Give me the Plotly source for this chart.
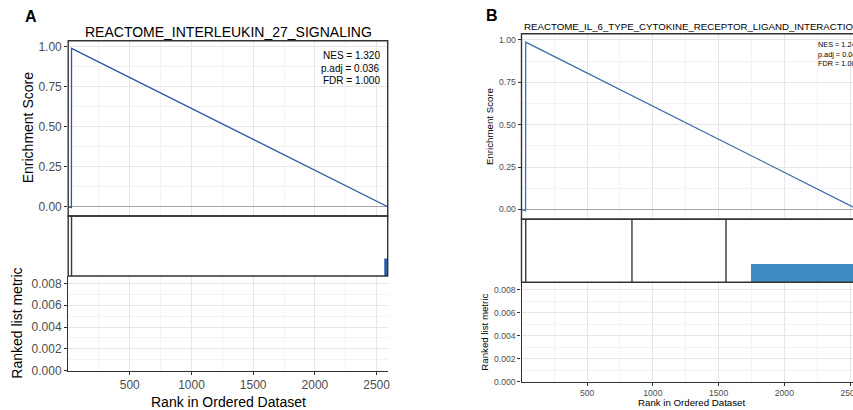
import plotly.graph_objects as go

W, H = 853, 410
FONT = "Liberation Sans, Arial, sans-serif"

# ---------------- data ----------------
# Panel A
a_title = "REACTOME_INTERLEUKIN_27_SIGNALING"
a_es_rank = [1, 27, 28, 2590]
a_es_score = [0.0, -0.006, 0.99, 0.0]
a_hits = [28]
a_bar_start, a_bar_end = 2562, 2590
a_metric_rank = [1]
a_metric = [0.0]
a_stats = ["NES = 1.320", "p.adj = 0.036", "FDR = 1.000"]

# Panel B
b_title = "REACTOME_IL_6_TYPE_CYTOKINE_RECEPTOR_LIGAND_INTERACTION"
b_es_rank = [1, 32, 33, 2560]
b_es_score = [0.0, -0.007, 0.987, 0.0]
b_hits = [33, 841, 1556]
b_bar_start, b_bar_end = 1746, 2560
b_metric_rank = [1]
b_metric = [0.0]
b_stats = ["NES = 1.240", "p.adj = 0.045", "FDR = 1.000"]

bar_height = 0.29
es_tickvals = [0, 0.25, 0.5, 0.75, 1.0]
es_ticktext = ["0.00", "0.25", "0.50", "0.75", "1.00"]
metric_tickvals = [0, 0.002, 0.004, 0.006, 0.008]
metric_ticktext = ["0.000", "0.002", "0.004", "0.006", "0.008"]
rank_tickvals = [500, 1000, 1500, 2000, 2500]
rank_ticktext = ["500", "1000", "1500", "2000", "2500"]


def fx(p):
    return p / W


def fy(p):
    return 1 - p / H


fig = go.Figure()

GRID = "#e6e6e6"
MINOR = "#f3f3f3"
LINEC = "#333333"
TICKC = "#4d4d4d"


def add_panel(idx0, xl, xr, xrange, top, mid, bot, es_rank, es_score, hits,
              bar_s, bar_e, m_rank, m_val, line_color, bar_color, tick_size):
    i1, i2, i3 = idx0, idx0 + 1, idx0 + 2
    xs = [f"x{'' if i == 1 else i}" for i in (i1, i2, i3)]
    ys = [f"y{'' if i == 1 else i}" for i in (i1, i2, i3)]
    # running ES
    fig.add_trace(go.Scatter(x=es_rank, y=es_score, mode="lines",
                             line=dict(color=line_color, width=1.3),
                             xaxis=xs[0], yaxis=ys[0], showlegend=False,
                             hoverinfo="skip"))
    # hits
    hx, hy = [], []
    for h in hits:
        hx += [h, h, None]
        hy += [0, 1, None]
    fig.add_trace(go.Scatter(x=hx, y=hy, mode="lines",
                             line=dict(color="#3a3a3a", width=1.4),
                             xaxis=xs[1], yaxis=ys[1], showlegend=False,
                             hoverinfo="skip"))
    # rank colour bar
    fig.add_trace(go.Scatter(x=[bar_s, bar_e, bar_e, bar_s, bar_s],
                             y=[0, 0, bar_height, bar_height, 0],
                             mode="lines", fill="toself", fillcolor=bar_color,
                             line=dict(width=0, color=bar_color),
                             xaxis=xs[1], yaxis=ys[1], showlegend=False,
                             hoverinfo="skip"))
    # ranked list metric
    fig.add_trace(go.Bar(x=m_rank, y=m_val, marker=dict(color="#999999"),
                         xaxis=xs[2], yaxis=ys[2], showlegend=False,
                         hoverinfo="skip"))

    dom_x = [fx(xl), min(1.0, fx(xr))]
    common_x = dict(domain=dom_x, range=xrange, zeroline=False, automargin=False)
    # top
    fig.layout[f"xaxis{'' if i1 == 1 else i1}"] = dict(
        **common_x, anchor=ys[0], showticklabels=False,
        ticks="", tick0=0, dtick=500, showgrid=True, gridcolor=GRID, gridwidth=1,
        minor=dict(dtick=250, tick0=0, showgrid=True, gridcolor=MINOR, gridwidth=1))
    fig.layout[f"yaxis{'' if i1 == 1 else i1}"] = dict(
        domain=[fy(top[1]), fy(top[0])], range=[-0.058, 1.037], automargin=False,
        anchor=xs[0], tickvals=es_tickvals, ticktext=es_ticktext,
        ticks="outside", ticklen=3, tickcolor=LINEC, tickwidth=1,
        tickfont=dict(family=FONT, size=tick_size, color=TICKC),
        showgrid=True, gridcolor=GRID, gridwidth=1,
        minor=dict(tickvals=[0.125, 0.375, 0.625, 0.875], showgrid=True,
                   gridcolor=MINOR, gridwidth=1),
        zeroline=True, zerolinecolor="#a6a6a6", zerolinewidth=1)
    # mid
    fig.layout[f"xaxis{i2}"] = dict(**common_x, anchor=ys[1], showticklabels=False,
                                    ticks="", showgrid=False)
    fig.layout[f"yaxis{i2}"] = dict(domain=[fy(mid[1]), fy(mid[0])], range=[0, 1],
                                    anchor=xs[1], showticklabels=False, ticks="",
                                    showgrid=False, zeroline=False, automargin=False)
    # bottom
    fig.layout[f"xaxis{i3}"] = dict(
        **common_x, anchor=ys[2], tickvals=rank_tickvals, ticktext=rank_ticktext,
        ticks="outside", ticklen=3, tickcolor=LINEC, ticklabeloverflow="allow",
        tickfont=dict(family=FONT, size=tick_size, color=TICKC),
        showline=True, linecolor=LINEC, linewidth=1.3,
        showgrid=True, gridcolor=GRID, gridwidth=1,
        minor=dict(tickvals=[250, 750, 1250, 1750, 2250], showgrid=True,
                   gridcolor=MINOR, gridwidth=1))
    fig.layout[f"yaxis{i3}"] = dict(
        domain=[fy(bot[1]), fy(bot[0])], range=[0, 0.00867], anchor=xs[2],
        automargin=False,
        tickvals=metric_tickvals, ticktext=metric_ticktext,
        ticks="outside", ticklen=3, tickcolor=LINEC,
        tickfont=dict(family=FONT, size=tick_size, color=TICKC),
        showline=True, linecolor=LINEC, linewidth=1.3,
        showgrid=True, gridcolor=GRID, gridwidth=1,
        minor=dict(tickvals=[0.001, 0.003, 0.005, 0.007], showgrid=True,
                   gridcolor=MINOR, gridwidth=1),
        zeroline=False)
    # borders for top and middle
    x1dom = 1.0 if xr <= W else 1.0 + (xr - W) / (W - xl)
    for k in (0, 1):
        fig.add_shape(type="rect", xref=f"{xs[k]} domain", yref=f"{ys[k]} domain",
                      x0=0, x1=x1dom, y0=0, y1=1,
                      line=dict(color=LINEC, width=1.4), layer="above")


# Panel A: top 40.8-216, mid 216-276, bottom 276-370.7
add_panel(1, 68.2, 387.7, [1, 2590], (40.8, 216), (216, 276), (276, 370.7),
          a_es_rank, a_es_score, a_hits, a_bar_start, a_bar_end,
          a_metric_rank, a_metric, "#2b58a3", "#2a5ea8", 12)
# Panel B: top 33.7-219.3, mid 219.3-282.3, bottom 282.3-381.7
add_panel(4, 521.5, 862, [1, 2522], (33.7, 219.3), (219.3, 282.3), (282.3, 381.7),
          b_es_rank, b_es_score, b_hits, b_bar_start, b_bar_end,
          b_metric_rank, b_metric, "#3c6db3", "#3d8bc2", 8.6)

ann = []


def text(x, y, s, size, color="#000000", xanchor="center", angle=0, bold=False):
    ann.append(dict(x=fx(x), y=fy(y), xref="paper", yref="paper",
                    text=f"<b>{s}</b>" if bold else s, showarrow=False,
                    xanchor=xanchor, yanchor="middle", textangle=angle,
                    font=dict(family=FONT, size=size, color=color)))


# Panel A texts
text(31, 16.5, "A", 16, bold=True)
text(228, 31.7, a_title, 14)
text(28.3, 128, "Enrichment Score", 14, angle=-90)
text(16.7, 323, "Ranked list metric", 14, angle=-90)
text(228, 401.7, "Rank in Ordered Dataset", 14)
for i, s in enumerate(a_stats):
    text(381.5, 55 + 13 * i, s, 10, xanchor="right")

# Panel B texts
text(491.7, 15.7, "B", 16, bold=True)
text(521.7, 26.7, b_title, 9.7, xanchor="left")
text(489.3, 126.7, "Enrichment Score", 9.7, angle=-90)
text(485, 331.7, "Ranked list metric", 9.7, angle=-90)
text(691.7, 402.7, "Rank in Ordered Dataset", 9.7)
for i, s in enumerate(b_stats):
    text(815.7, 44.5 + 9.5 * i, s, 7.3, xanchor="left")

fig.update_layout(width=W, height=H, margin=dict(l=0, r=0, t=0, b=0, autoexpand=False),
                  paper_bgcolor="white", plot_bgcolor="white",
                  annotations=ann, showlegend=False)

fig.write_html("out.html")
